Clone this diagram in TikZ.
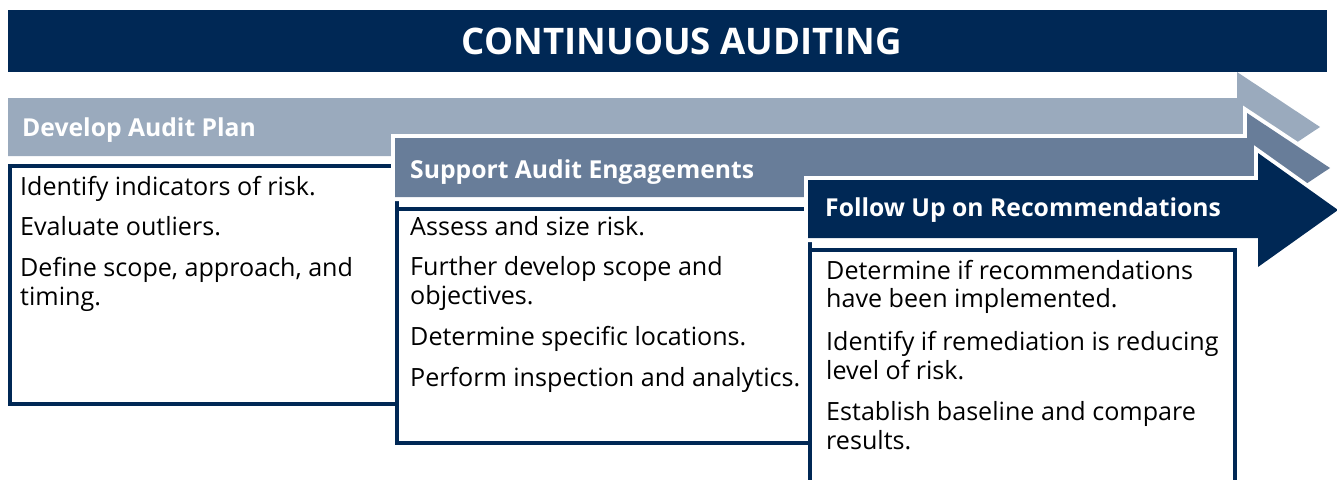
\documentclass[tikz,border=0pt]{standalone}
\usepackage{fontspec}
\setmainfont{Open Sans}
\definecolor{navy}{RGB}{0,40,85}
\definecolor{arrA}{RGB}{154,170,189}
\definecolor{arrB}{RGB}{104,125,153}
\begin{document}
\begin{tikzpicture}[x=1pt,y=-1pt,
  hdr/.style={anchor=base west, inner sep=0pt, text=white, font=\fontsize{24.7}{28}\selectfont\bfseries},
  txt/.style={anchor=base west, inner sep=0pt, text=black, font=\fontsize{25.1}{28}\selectfont},
  box/.style={draw=navy, line width=4pt, fill=white},
  outlined/.style={preaction={draw=white, line width=8pt}}]
\useasboundingbox (0,0) rectangle (1337,479);
\clip (0,0) rectangle (1337,479);
% title
\fill[navy] (8,10) rectangle (1327,72);
\node[anchor=base, inner sep=0pt, text=white, font=\fontsize{36.6}{40}\selectfont\bfseries] (title) at (682,54) {CONTINUOUS AUDITING};
% arrow 1
\fill[arrA] (8,98) -- (1237,98) -- (1237,72) -- (1320,127) -- (1237,182) -- (1237,156) -- (8,156) -- cycle;
\node[hdr] (h1) at (22,136) {Develop Audit Plan};
% box 1
\draw[box] (10,166) rectangle (397,404);
\node[txt] (a1) at (20,195) {Identify indicators of risk.};
\node[txt] (a2) at (20,235) {Evaluate outliers.};
\node[txt] (a3) at (20,276) {Define scope, approach, and};
\node[txt] (a4) at (20,305) {timing.};
% arrow 2
\fill[arrB, outlined] (395,138) -- (1247,138) -- (1247,113) -- (1330,168) -- (1247,223) -- (1247,197) -- (395,197) -- cycle;
\node[hdr] (h2) at (410,178) {Support Audit Engagements};
% box 2
\draw[box] (397,209) rectangle (810,443);
\node[txt] (b1) at (410,235) {Assess and size risk.};
\node[txt] (b2) at (410,275) {Further develop scope and};
\node[txt] (b3) at (410,304) {objectives.};
\node[txt] (b4) at (410,345) {Determine specific locations.};
\node[txt] (b5) at (410,386) {Perform inspection and analytics.};
% arrow 3
\fill[navy, outlined] (808,180) -- (1258,180) -- (1258,153) -- (1338,210) -- (1258,267) -- (1258,238) -- (808,238) -- cycle;
\node[hdr] (h3) at (825,216) {Follow Up on Recommendations};
% box 3
\draw[box] (810,250) rectangle (1235,500);
\node[txt] (c1) at (826,279) {Determine if recommendations};
\node[txt] (c2) at (826,307) {have been implemented.};
\node[txt] (c3) at (826,350) {Identify if remediation is reducing};
\node[txt] (c4) at (826,379) {level of risk.};
\node[txt] (c5) at (826,420) {Establish baseline and compare};
\node[txt] (c6) at (826,449) {results.};
\end{tikzpicture}
\end{document}
